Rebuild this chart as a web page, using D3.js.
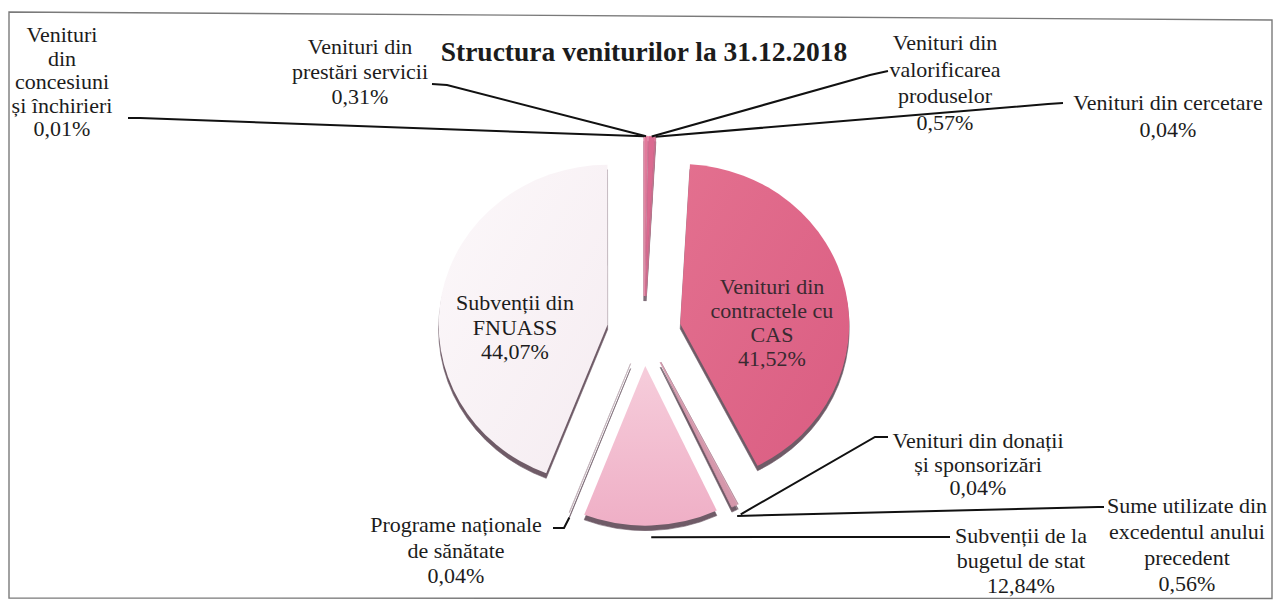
<!DOCTYPE html>
<html>
<head>
<meta charset="utf-8">
<script src="https://cdn.jsdelivr.net/npm/d3@7"></script>
<style>
  body { margin: 0; background: #fff; }
  text { font-family: "Liberation Serif", "Times New Roman", serif; fill: #1c1c1c; }
</style>
</head>
<body>
<svg width="1273" height="600"></svg>
<script>
// data (clockwise from 12 o'clock, as in the original)
var categories = [
    ["Venituri din", "prestări servicii"],
    ["Venituri din", "valorificarea", "produselor"],
    ["Venituri din cercetare"],
    ["Venituri din", "contractele cu", "CAS"],
    ["Venituri din donații", "și sponsorizări"],
    ["Sume utilizate din", "excedentul anului", "precedent"],
    ["Subvenții de la", "bugetul de stat"],
    ["Programe naționale", "de sănătate"],
    ["Subvenții din", "FNUASS"],
    ["Venituri", "din", "concesiuni", "și închirieri"]
];
var values = [0.31, 0.57, 0.04, 41.52, 0.04, 0.56, 12.84, 0.04, 44.07, 0.01];
var title = "Structura veniturilor la 31.12.2018";

var colors = ["#e27a9c", "#da6a90", "#c9738f", "url(#gCas)", "#b88c9c",
              "#d597ab", "url(#gBuget)", "#c2b2ba", "url(#gFnuass)", "#e49ab2"];

// layout of the labels: centre x, first baseline, line height, extra gap, elbow points of leader
var labelLayout = [
    { x: 360,  y: 54,  lh: 25,   ext: 0, leader: [[447, 85], [432, 84]] },
    { x: 945,  y: 50,  lh: 26.5, ext: 0, leader: [[870, 75], [888, 71]] },
    { x: 1168, y: 110, lh: 27,   ext: 0, leader: [[1048, 104], [1063, 103]] },
    { x: 772,  y: 294, lh: 24,   ext: 0, leader: null },
    { x: 978,  y: 448, lh: 23.5, ext: 6, leader: [[875, 437], [888, 437]] },
    { x: 1187, y: 513, lh: 26,   ext: 6, leader: [[1098, 507], [1104, 507]] },
    { x: 1021, y: 543, lh: 25,   ext: 7, leader: [[950, 537]] },
    { x: 456,  y: 532, lh: 25.5, ext: 0, leader: [[564, 528], [553, 528]] },
    { x: 515,  y: 310, lh: 24.5, ext: 0, leader: null },
    { x: 62,   y: 42,  lh: 23.5, ext: 0, leader: [[140, 118], [128, 118]] }
];

var svg = d3.select('svg');
var cx = 644, cy = 331, R = 169, explode = 37, tilt = 0.945, depth = 5;

// gradients
var defs = svg.append('defs');
function grad(id, c1, c2, x2, y2) {
    var g = defs.append('linearGradient').attr('id', id)
        .attr('x1', 0).attr('y1', 0).attr('x2', x2).attr('y2', y2);
    g.append('stop').attr('offset', '0%').attr('stop-color', c1);
    g.append('stop').attr('offset', '100%').attr('stop-color', c2);
}
grad('gCas', '#e3708f', '#da5d82', 1, 1);
grad('gBuget', '#f6cddb', '#efafc6', 0, 1);
grad('gFnuass', '#fcf8fa', '#f5ecf1', 1, 1);

// border of the chart area
svg.append('path')
    .attr('d', 'M9,12 L1272,20 L1272,598.5 L9,598 Z')
    .attr('fill', 'none')
    .attr('stroke', '#7a7a7a')
    .attr('stroke-width', 1.4);

var pie = d3.pie().sort(null).value(function(d) { return d; });
var arcs = pie(values);
var arc = d3.arc().innerRadius(0).outerRadius(R);

function mid(d) { return (d.startAngle + d.endAngle) / 2; }
function offset(d, dy) {
    var a = mid(d);
    return [cx + explode * Math.sin(a), cy - explode * Math.cos(a) * tilt + (dy || 0)];
}

// 3D side (thickness) first
svg.append('g').selectAll('path.side')
    .data(arcs)
    .enter().append('path')
    .attr('class', 'side')
    .attr('transform', function(d) {
        var o = offset(d, depth);
        return 'translate(' + o + ') scale(1,' + tilt + ')';
    })
    .attr('d', arc)
    .attr('fill', '#6f5b67')
    .attr('stroke', '#6f5b67')
    .attr('stroke-width', 0.6);

// top faces
svg.append('g').selectAll('path.slice')
    .data(arcs)
    .enter().append('path')
    .attr('class', 'slice')
    .attr('transform', function(d) {
        return 'translate(' + offset(d) + ') scale(1,' + tilt + ')';
    })
    .attr('d', arc)
    .attr('fill', function(d, i) { return colors[i]; })
    .attr('stroke', function(d, i) { return colors[i].indexOf('url') === 0 ? 'none' : colors[i]; })
    .attr('stroke-width', 0.8);

// leader lines: start on the outer edge of the slice
var fmt = d3.format('.2f');
arcs.forEach(function(d, i) {
    var L = labelLayout[i];
    if (!L.leader) return;
    var a = mid(d);
    var o = offset(d);
    var down = Math.cos(a) < 0 ? depth : 0;
    var r = R + L.ext;
    var start = [o[0] + r * Math.sin(a), o[1] - r * Math.cos(a) * tilt + down];
    svg.append('path')
        .attr('d', d3.line()([start].concat(L.leader)))
        .attr('fill', 'none')
        .attr('stroke', '#111')
        .attr('stroke-width', 2);
});

// labels
arcs.forEach(function(d, i) {
    var L = labelLayout[i];
    var lines = categories[i].concat([fmt(values[i]).replace('.', ',') + '%']);
    var t = svg.append('text')
        .attr('text-anchor', 'middle')
        .style('font-size', '22px')
        .style('fill', i === 3 ? '#3a2a31' : '#1c1c1c');
    lines.forEach(function(s, j) {
        t.append('tspan').attr('x', L.x).attr('y', L.y + j * L.lh).text(s);
    });
});

// title
svg.append('text')
    .attr('x', 644)
    .attr('y', 61)
    .attr('text-anchor', 'middle')
    .style('font-size', '27.5px')
    .style('font-weight', 'bold')
    .text(title);
</script>
</body>
</html>
